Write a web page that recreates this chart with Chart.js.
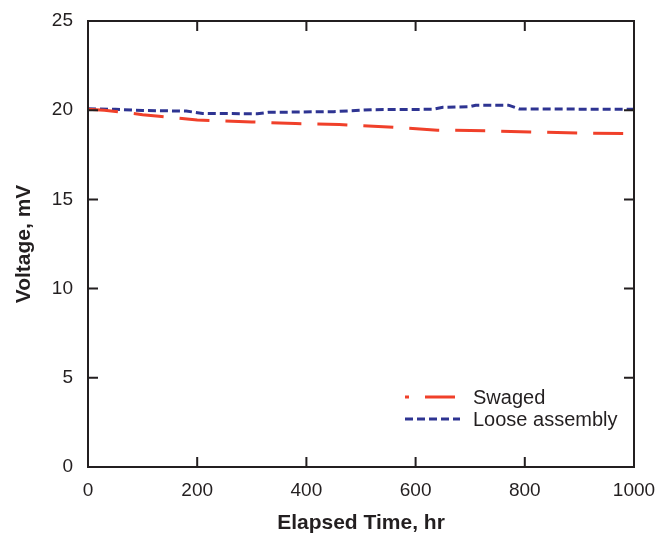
<!DOCTYPE html>
<html>
<head>
<meta charset="utf-8">
<script src="https://cdn.jsdelivr.net/npm/chart.js@4.4.1/dist/chart.umd.min.js"></script>
<style>
  html, body { margin: 0; padding: 0; background: #fff; }
  #wrap { width: 667px; height: 536px; }
</style>
</head>
<body>
<div id="wrap"><canvas id="myChart" width="667" height="536"></canvas></div>
<script>
const swagedHours = [0, 30, 60, 100, 130, 200, 250, 300, 380, 460, 550, 640, 730, 810, 900, 1000];
const swagedVolts = [20.05, 20.0, 19.9, 19.75, 19.66, 19.45, 19.4, 19.34, 19.25, 19.2, 19.06, 18.88, 18.85, 18.78, 18.72, 18.68];

const looseHours = [0, 50, 100, 180, 210, 310, 330, 450, 520, 630, 650, 700, 710, 770, 790, 1000];
const looseVolts = [20.08, 20.05, 19.98, 19.95, 19.82, 19.8, 19.88, 19.92, 20.03, 20.05, 20.16, 20.2, 20.28, 20.28, 20.07, 20.05];

const seriesNames = ["Swaged", "Loose assembly"];
const textColor = "#231f20";
const fontFamily = "'Liberation Sans', Arial, sans-serif";

const toPoints = (xs, ys) => xs.map((x, i) => ({ x: x, y: ys[i] }));

// frame + inward tick marks on all four sides
const framePlugin = {
  id: "frame",
  afterDatasetsDraw(chart) {
    const { ctx, chartArea: a, scales } = chart;
    ctx.save();
    ctx.strokeStyle = textColor;
    ctx.lineWidth = 2;
    ctx.strokeRect(a.left, a.top, a.right - a.left, a.bottom - a.top);
    const len = 10;
    ctx.beginPath();
    scales.x.ticks.forEach((t) => {
      const px = scales.x.getPixelForValue(t.value);
      if (px <= a.left + 1 || px >= a.right - 1) return;
      ctx.moveTo(px, a.bottom); ctx.lineTo(px, a.bottom - len);
      ctx.moveTo(px, a.top); ctx.lineTo(px, a.top + len);
    });
    scales.y.ticks.forEach((t) => {
      const py = scales.y.getPixelForValue(t.value);
      if (py <= a.top + 1 || py >= a.bottom - 1) return;
      ctx.moveTo(a.left, py); ctx.lineTo(a.left + len, py);
      ctx.moveTo(a.right, py); ctx.lineTo(a.right - len, py);
    });
    ctx.stroke();
    ctx.restore();
  },
  afterDraw(chart) {
    // legend inside the plot, bottom right
    const { ctx, chartArea: a } = chart;
    ctx.save();
    chart.data.datasets.forEach((ds, i) => {
      const y = a.bottom - 70 + i * 22;
      const x0 = a.right - 229;
      ctx.strokeStyle = ds.borderColor;
      ctx.lineWidth = 3;
      ctx.setLineDash(ds.borderDash);
      ctx.lineDashOffset = i === 0 ? 26 : 0;
      ctx.beginPath();
      ctx.moveTo(x0, y);
      ctx.lineTo(x0 + 55, y);
      ctx.stroke();
      ctx.setLineDash([]);
      ctx.fillStyle = textColor;
      ctx.font = "20px " + fontFamily;
      ctx.textBaseline = "middle";
      ctx.textAlign = "left";
      ctx.fillText(ds.label, a.right - 161, y + 1);
    });
    ctx.restore();
  },
};

const data = {
  datasets: [
    {
      label: seriesNames[0],
      data: toPoints(swagedHours, swagedVolts),
      borderColor: "#f0402a",
      borderWidth: 3,
      borderDash: [30, 16],
      pointRadius: 0,
      tension: 0,
      fill: false,
    },
    {
      label: seriesNames[1],
      data: toPoints(looseHours, looseVolts),
      borderColor: "#2e3492",
      borderWidth: 3,
      borderDash: [8, 4],
      pointRadius: 0,
      tension: 0,
      fill: false,
    },
  ],
};

const config = {
  type: "line",
  data: data,
  options: {
    responsive: false,
    animation: false,
    layout: { padding: { top: 21, right: 33, left: 0, bottom: 0 } },
    plugins: {
      legend: { display: false },
      tooltip: { enabled: false },
    },
    scales: {
      x: {
        type: "linear",
        min: 0,
        max: 1000,
        grid: { display: false, drawTicks: false },
        border: { display: false },
        ticks: {
          stepSize: 200,
          padding: 12,
          color: textColor,
          font: { family: fontFamily, size: 19 },
          maxRotation: 0,
          callback: (v) => String(v),
        },
        title: {
          display: true,
          text: "Elapsed Time, hr",
          color: textColor,
          font: { family: fontFamily, size: 21, weight: "bold" },
          padding: { top: 4, bottom: 0 },
        },
        afterFit: (scale) => {
          scale.height = 69;
          scale.paddingRight = 0;
          scale.paddingLeft = 0;
        },
      },
      y: {
        min: 0,
        max: 25,
        grid: { display: false, drawTicks: false },
        border: { display: false },
        ticks: {
          stepSize: 5,
          padding: 15,
          color: textColor,
          font: { family: fontFamily, size: 19 },
        },
        title: {
          display: true,
          text: "Voltage, mV",
          color: textColor,
          font: { family: fontFamily, size: 21, weight: "bold" },
          padding: { top: 12, bottom: 4 },
        },
        afterFit: (scale) => {
          scale.width = 88;
          scale.paddingTop = 0;
          scale.paddingBottom = 0;
        },
      },
    },
  },
  plugins: [framePlugin],
};

const myChart = new Chart(document.getElementById("myChart").getContext("2d"), config);
</script>
</body>
</html>
